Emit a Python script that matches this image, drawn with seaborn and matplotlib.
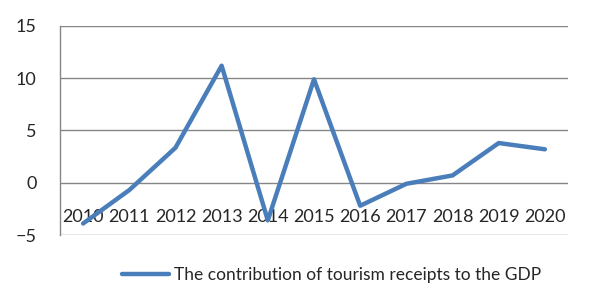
import pandas as pd
import seaborn as sns
import matplotlib.pyplot as plt

# Data
years = ['2010', '2011', '2012', '2013', '2014', '2015', '2016', '2017', '2018', '2019', '2020']
contribution = [-3.9, -0.7, 3.35, 11.2, -3.6, 9.9, -2.2, -0.1, 0.7, 3.8, 3.2]
series_name = 'The contribution of tourism receipts to the GDP'

df = pd.DataFrame({'year': years, 'value': contribution, 'series': series_name})

sns.set_theme(style='white')
plt.rcParams['font.family'] = ['Lato', 'DejaVu Sans']

fig = plt.figure(figsize=(5.9, 3.05), dpi=100)
ax = fig.add_axes([0.1017, 0.2295, 0.861, 0.6853])

sns.lineplot(data=df, x='year', y='value', hue='series', palette=['#4a7ebb'],
             linewidth=3.2, sort=False, ax=ax, legend=True)

ax.set_ylim(-5, 15)
ax.set_xlim(-0.5, len(years) - 0.5)
ax.set_yticks([-5, 0, 5, 10, 15])
ax.yaxis.grid(True, color='#868686', linewidth=1)
ax.set_axisbelow(True)
ax.set_xlabel('')
ax.set_ylabel('')

# x axis crosses at 0, labels sit under it
ax.spines['bottom'].set_position(('data', 0))
ax.spines['bottom'].set_visible(False)
ax.spines['top'].set_visible(False)
ax.spines['right'].set_visible(False)
ax.spines['left'].set_color('#868686')
ax.spines['left'].set_linewidth(1)
ax.tick_params(axis='x', length=0, pad=19, labelsize=13)
ax.tick_params(axis='y', length=0, pad=17, labelsize=13)

handles, labels = ax.get_legend_handles_labels()
ax.get_legend().remove()
fig.legend(handles, labels, loc='lower center', bbox_to_anchor=(0.562, 0.02),
           frameon=False, fontsize=12.5, handlelength=2.7, handletextpad=0.3)

fig.savefig('out.png', dpi=100)
